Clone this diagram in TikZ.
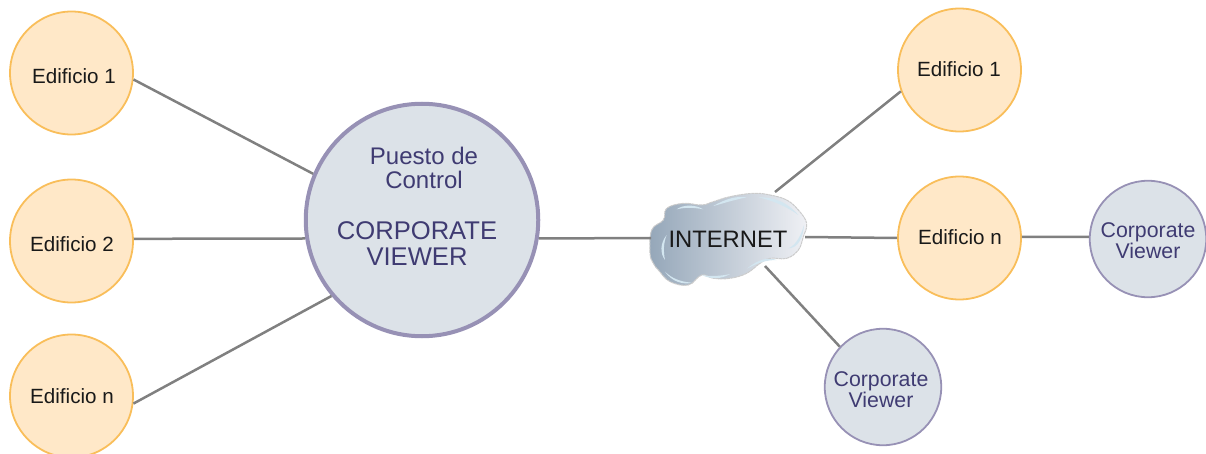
\documentclass[tikz,border=0pt]{standalone}
\usepackage{fontspec}
\setmainfont{Liberation Sans}
\definecolor{ofill}{HTML}{FFE8C8}
\definecolor{ostroke}{HTML}{F9BE5A}
\definecolor{bfill}{HTML}{DCE2E8}
\definecolor{bstroke}{HTML}{9791B5}
\definecolor{btext}{HTML}{3F3B72}
\definecolor{wire}{HTML}{808080}
\definecolor{cloudl}{HTML}{95A7B9}
\definecolor{cloudr}{HTML}{F0F1F5}
\definecolor{cloudh}{HTML}{D3E6F0}
\tikzset{
  bldg/.style={circle,draw=ostroke,fill=ofill,line width=1.8pt,minimum size=123pt,inner sep=0pt},
  bldgt/.style={inner sep=0pt,font=\fontsize{20.6}{22}\selectfont,text=black!90},
  viewer/.style={circle,draw=bstroke,fill=bfill,line width=1.8pt,minimum size=116.5pt,inner sep=0pt},
  viewert/.style={inner sep=0pt,font=\fontsize{21.3}{20.8}\selectfont,text=btext,align=center},
  hubc/.style={circle,draw=bstroke,fill=bfill,line width=4pt,minimum size=232.5pt,inner sep=0pt},
  hubt/.style={align=center,text=btext,inner sep=0pt},
  wireline/.style={draw=wire,line width=2.5pt},
  crescent/.style={fill=cloudh,draw=none}
}
\begin{document}
\begin{tikzpicture}[x=1pt,y=-1pt]
\useasboundingbox (0,0) rectangle (1206,454);
\node[bldg] (l1) at (71.5,73) {};
\node[bldg] (l2) at (71.5,241) {};
\node[bldg] (l3) at (71.5,396) {};
\node[bldgt] (l1t) at (74,76) {Edificio 1};
\node[bldgt] (l2t) at (72,244) {Edificio 2};
\node[bldgt] (l3t) at (72,396) {Edificio n};
\node[hubc] (hub) at (422,220) {};
\node[hubt,font=\fontsize{24}{24.5}\selectfont] (puesto) at (424,168) {Puesto de\\Control};
\node[hubt,font=\fontsize{25.6}{26}\selectfont] (corp) at (417,244) {CORPORATE\\VIEWER};
\node[bldg] (r1) at (959.5,70) {};
\node[bldg] (r2) at (959.5,238) {};
\node[bldgt] (r1t) at (959,69) {Edificio 1};
\node[bldgt] (r2t) at (960,237) {Edificio n};
\node[viewer] (v1) at (1148,239) {};
\node[viewer] (v2) at (883,387) {};
\node[viewert] (v1t) at (1148,241) {Corporate\\Viewer};
\node[viewert] (v2t) at (881,390) {Corporate\\Viewer};
\begin{scope}[shift={(630,170)},x=0.33333pt,y=-0.33333pt]
\path[left color=cloudl,right color=cloudr,draw=black!20,line width=1pt,dash pattern=on 3pt off .6pt]
  plot[smooth cycle,tension=.65] coordinates {(60,250)(65,180)(100,150)(110,115)(160,100)(215,105)(250,95)(300,80)(370,70)(420,75)(470,90)(505,120)(530,160)(520,200)(505,240)(470,265)(420,265)(390,280)(350,310)(300,325)(250,325)(215,315)(175,345)(120,335)(85,300)(70,280)};
\fill[crescent] (250,108) .. controls (290,85) and (320,78) .. (350,82) .. controls (310,90) and (280,100) .. cycle;
\fill[crescent] (140,118) .. controls (160,103) and (195,103) .. (220,118) .. controls (190,112) and (165,112) .. cycle;
\fill[crescent] (385,82) .. controls (430,80) and (470,95) .. (505,135) .. controls (470,110) and (430,92) .. cycle;
\fill[crescent] (110,195) .. controls (90,220) and (90,250) .. (105,270) .. controls (100,245) and (100,220) .. cycle;
\fill[crescent] (105,305) .. controls (125,335) and (160,345) .. (185,338) .. controls (150,335) and (125,325) .. cycle;
\fill[crescent] (215,315) .. controls (240,328) and (275,328) .. (300,312) .. controls (275,318) and (240,320) .. cycle;
\fill[crescent] (352,295) .. controls (390,265) and (415,262) .. (440,270) .. controls (410,270) and (385,278) .. cycle;
\fill[crescent] (475,235) .. controls (500,225) and (515,190) .. (522,165) .. controls (520,200) and (505,235) .. cycle;
\end{scope}
\node[inner sep=0pt,text=black!90,font=\fontsize{23.8}{24}\selectfont] (inet) at (728,239) {INTERNET};
\coordinate (cw) at (651,238);
\coordinate (ce) at (805,237);
\coordinate (cn) at (775,192);
\coordinate (cs) at (765,266);
\path[wireline] (l1.-6) -- (hub.157.6);
\path[wireline] (l2.2) -- (hub.189);
\path[wireline] (l3.-7) -- (hub.220.6);
\path[wireline] (hub.-9) -- (cw);
\path[wireline] (cn) -- (r1.200.8);
\path[wireline] (ce) -- (r2.180);
\path[wireline] (cs) -- (v2.137);
\path[wireline] (r2.1) -- (v1.178);
\end{tikzpicture}
\end{document}
